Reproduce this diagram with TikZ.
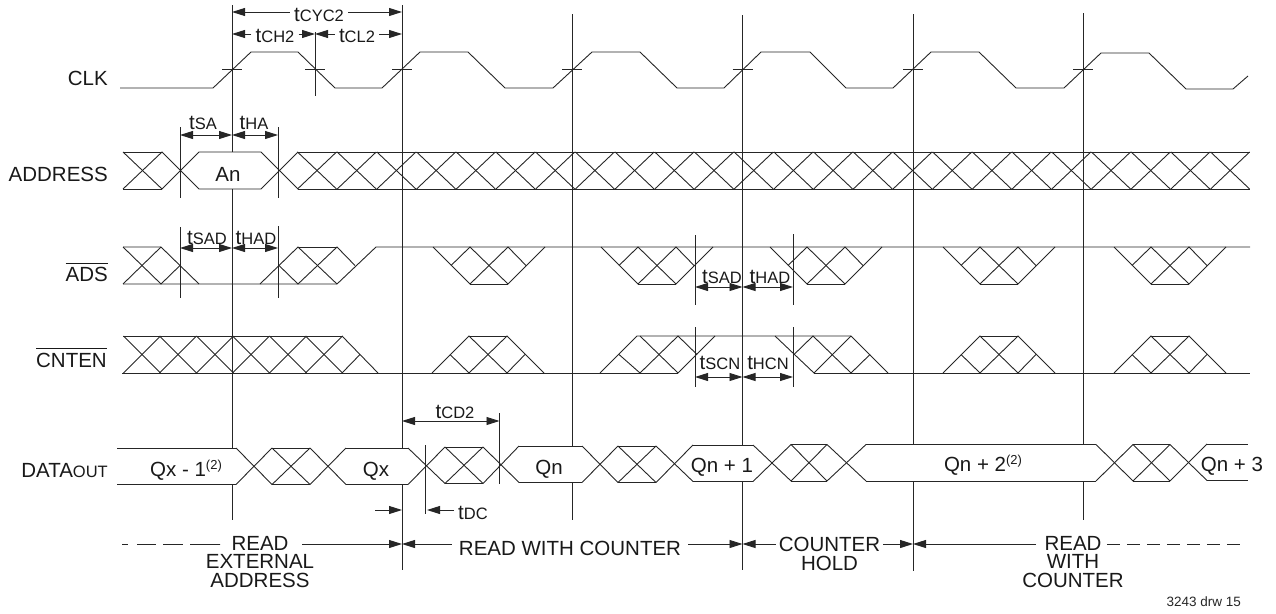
\documentclass[tikz,border=0pt]{standalone}
\usepackage{fontspec}
\setmainfont{Liberation Sans}
\usetikzlibrary{arrows.meta}
\newcommand{\smcap}[1]{{\fontsize{16.5}{16.5}\selectfont #1}}
\newcommand{\tlab}[1]{t\smcap{#1}}
\newcommand{\barred}[1]{\vbox{\hrule height 1pt\kern3.5pt\hbox{#1}}}
\newcommand{\notetwo}{\raisebox{7pt}{\fontsize{13}{13}\selectfont (2)}}
\tikzset{
    wave/.style={line width=0.9pt,black!85},
    guide/.style={line width=0.9pt,black!85},
    dim/.style={line width=0.9pt,black!85,-{Triangle[length=13pt,width=8pt]}},
    dimboth/.style={line width=0.9pt,black!85,{Triangle[length=13pt,width=8pt]}-{Triangle[length=13pt,width=8pt]}},
    lab/.style={inner sep=0pt,text height=14.3pt,text depth=0pt,text=black!90,
        font=\fontsize{20.5}{20.5}\selectfont},
    siglab/.style={lab,anchor=east},
    timelab/.style={lab,inner xsep=4pt},
    phase/.style={inner sep=0pt,align=center,text=black!90,
        font=\fontsize{20.5}{18.5}\selectfont},
}
\begin{document}
\begin{tikzpicture}[x=1pt,y=-1pt]
    \useasboundingbox (0,0) rectangle (1276,613);
    % clock edges and guide lines
    \draw[guide] (232,5) -- (232,152) (232,189) -- (232,448) (232,484) -- (232,520);
    \draw[guide] (402,5) -- (402,448) (402,484) -- (402,570);
    \draw[guide] (572,14) -- (572,446) (572,482) -- (572,520);
    \draw[guide] (742.5,15) -- (742.5,445) (742.5,482) -- (742.5,570);
    \draw[guide] (913,14) -- (913,444) (913,481) -- (913,571);
    \draw[guide] (1083,13) -- (1083,444) (1083,481) -- (1083,520);
    \draw[guide] (315,32) -- (315,96) (305,69) -- (325,69);
    \draw[guide] (180,127) -- (180,198) (278,127) -- (278,198);
    \draw[guide] (180,227) -- (180,298) (278,226) -- (278,298);
    \draw[guide] (695,235) -- (695,305) (793,234) -- (793,305);
    \draw[guide] (695,327) -- (695,387) (793,327) -- (793,387);
    \draw[guide] (499.5,413) -- (499.5,484) (425.5,445) -- (425.5,514);
    \foreach \x in {232,402,572,742.5,913,1083}
        \draw[guide] (\x-10,69) -- (\x+10,69);

    % CLK
    \node[siglab] (clk) at (108,78) {CLK};
    \draw[wave] (120,88) -- (213,88) -- (251,52) -- (298,52) -- (335,88)
        -- (382,88) -- (420,52) -- (468,52) -- (505,88)
        -- (553,88) -- (592,52) -- (640,52) -- (677,88)
        -- (724,88) -- (761,52) -- (810,52) -- (846,88)
        -- (893,88) -- (931,52) -- (979,52) -- (1016,88)
        -- (1064,88) -- (1101,53) -- (1149,53) -- (1186,89)
        -- (1233,89) -- (1248,76);

    % ADDRESS
    \node[siglab] (address) at (108,174.5) {ADDRESS};
    \begin{scope}[shift={(0,152)}]
        \draw[wave] (123,0) -- (162,37) -- (199,0) -- (261,0) -- (298,37);
        \draw[wave] (123,37) -- (162,0) -- (199,37) -- (261,37) -- (298,0);
        \draw[wave] (123,0) -- (162,0) (123,37) -- (162,37);
        \draw[wave] (298,0) -- (1250,0) (298,37) -- (1250,37);
        \foreach \i in {0,...,23} {
            \pgfmathsetmacro{\c}{317+39.7*\i}
            \draw[wave] (\c-19.5,0) -- (\c+19.5,37);
            \draw[wave] (\c-19.5,37) -- (\c+19.5,0);
        }
    \end{scope}
    \node[lab] (an) at (228,174) {An};

    % ADS
    \node[siglab] (ads) at (108,274.7) {\barred{ADS}};
    \begin{scope}[shift={(0,247)}]
        \draw[wave] (123,0) -- (161,0) -- (199,37);
        \draw[wave] (123,0) -- (161,37) -- (180,18.5);
        \draw[wave] (123,37) -- (161,0);
        \draw[wave] (123,37) -- (337,37) -- (376,0) -- (1250,0);
        \draw[wave] (260,37) -- (298,0) -- (337,37);
        \draw[wave] (279,18.5) -- (298,37) -- (337,0) -- (355,18.5);
        \draw[wave] (298,0) -- (337,0);
        \foreach \a in {433,601,770,943,1114} {
            \draw[wave] (\a,0) -- (\a+37,37) -- (\a+75,0) -- (\a+93,18.5);
            \draw[wave] (\a+18,18.5) -- (\a+37,0) -- (\a+75,37) -- (\a+112,0);
            \draw[wave] (\a+37,37) -- (\a+75,37);
        }
    \end{scope}

    % CNTEN
    \node[siglab] (cnten) at (107,360) {\barred{CNTEN}};
    \begin{scope}[shift={(0,336)}]
        \draw[wave] (123,0) -- (342,0) (122,37) -- (678,37) (814,37) -- (1250,37);
        \foreach \c in {142,178,215,251,288,324} {
            \draw[wave] (\c-18.5,0) -- (\c+18.5,37);
            \draw[wave] (\c-18.5,37) -- (\c+18.5,0);
        }
        \draw[wave] (342,0) -- (378,37) (342,37) -- (360,18.5);
        \foreach \a in {432,943,1114} {
            \draw[wave] (\a,37) -- (\a+37,0) -- (\a+75,37) -- (\a+93,18.5);
            \draw[wave] (\a+18,18.5) -- (\a+37,37) -- (\a+75,0) -- (\a+112,37);
            \draw[wave] (\a+37,0) -- (\a+75,0);
        }
        \draw[wave] (600,37) -- (637,0) -- (851,0) -- (888,37);
        \draw[wave] (619,18.5) -- (640,37) -- (678,0) -- (697,18.5);
        \draw[wave] (640,0) -- (678,37) -- (715,0);
        \draw[wave] (775,0) -- (814,37) -- (851,0);
        \draw[wave] (794,18.5) -- (813,0) -- (851,37) -- (870,18.5);
    \end{scope}

    % DATAOUT
    \node[siglab] (dataout) at (108,470) {DATA\smcap{OUT}};
    \foreach \l/\r/\t in {117/236/448,272/310/448,346/408/448,445/483/447,519/582/446,
            618/656/446,693/753/445,791/827/444.5,866/1096/444.5,1133/1170/444.5,1207/1248/444} {
        \draw[wave] (\l,\t) -- (\r,\t) (\l,\t+36.5) -- (\r,\t+36.5);
    }
    \foreach \a/\b/\t/\u in {236/272/448/448,310/346/448/448,408/445/448/447,483/519/447/446,
            582/618/446/446,656/693/446/445,753/791/445/444.5,827/866/444.5/444.5,
            1096/1133/444.5/444.5,1170/1207/444.5/444} {
        \draw[wave] (\a,\t) -- (\b,\u+36.5);
        \draw[wave] (\a,\t+36.5) -- (\b,\u);
    }
    \foreach \l/\r/\t in {272/310/448,445/483/447,618/656/446,791/827/444.5,1133/1170/444.5} {
        \draw[wave] (\l,\t) -- (\r,\t+36.5);
        \draw[wave] (\l,\t+36.5) -- (\r,\t);
    }
    \node[lab] (qx1) at (186,469.5) {Qx - 1\notetwo};
    \node[lab] (qx) at (376,469.5) {Qx};
    \node[lab] (qn) at (549,467.5) {Qn};
    \node[lab] (qn1) at (722,465.5) {Qn + 1};
    \node[lab] (qn2) at (983,464) {Qn + 2\notetwo};
    \node[lab] (qn3) at (1232,464.5) {Qn + 3};

    % cycle timing
    \coordinate (cyca) at (232,12);
    \coordinate (cycb) at (402,12);
    \coordinate (cha) at (232,34);
    \coordinate (chb) at (315,34);
    \coordinate (clb) at (402,34);
    \node[timelab] (tcyc) at (319,14.5) {\tlab{CYC2}};
    \node[timelab] (tch) at (275,35) {\tlab{CH2}};
    \node[timelab] (tcl) at (357,35) {\tlab{CL2}};
    \draw[dim] (tcyc.west |- cyca) -- (cyca);
    \draw[dim] (tcyc.east |- cycb) -- (cycb);
    \draw[dim] (tch.west |- cha) -- (cha);
    \draw[dim] (tch.east |- chb) -- (chb);
    \draw[dim] (tcl.west |- chb) -- (chb);
    \draw[dim] (tcl.east |- clb) -- (clb);

    % setup and hold
    \foreach \n/\lab/\hlab/\y/\a/\m/\b/\ly/\sx/\hx in {
            sa/SA/HA/135/180/232/278/122/203/254,
            sad/SAD/HAD/248/180/232/278/237/207/256,
            sadr/SAD/HAD/287/695/742.5/793/276/722/770,
            scn/SCN/HCN/377/695/742.5/793/362/720/768} {
        \coordinate (\n a) at (\a,\y);
        \coordinate (\n m) at (\m,\y);
        \coordinate (\n b) at (\b,\y);
        \draw[dimboth] (\n a) -- (\n m);
        \draw[dimboth] (\n m) -- (\n b);
        \node[lab] (t\n s) at (\sx,\ly) {\tlab{\lab}};
        \node[lab] (t\n h) at (\hx,\ly) {\tlab{\hlab}};
    }

    % data out timing
    \coordinate (cda) at (402,421);
    \coordinate (cdb) at (499.5,421);
    \draw[dimboth] (cda) -- (cdb);
    \node[lab] (tcd) at (455,411) {\tlab{CD2}};
    \coordinate (dca) at (375,510);
    \coordinate (dcb) at (402,510);
    \coordinate (dcc) at (454,510);
    \coordinate (dcd) at (427,510);
    \draw[dim] (dca) -- (dcb);
    \draw[dim] (dcc) -- (dcd);
    \node[lab,anchor=west] (tdc) at (458,512) {\tlab{DC}};

    % operations
    \coordinate (opa) at (122,544);
    \coordinate (opb) at (220,544);
    \coordinate (opc) at (302,544);
    \coordinate (opd) at (402,544);
    \coordinate (ope) at (742.5,544);
    \coordinate (opf) at (913,544);
    \coordinate (opg) at (1245,544);
    \coordinate (oph) at (1107,544);
    \node[phase,anchor=north] (readext) at (260,536) {READ\\EXTERNAL\\ADDRESS};
    \node[lab,inner xsep=7pt] (readcnt) at (570,548) {READ WITH COUNTER};
    \node[phase,anchor=north] (hold) at (829.5,537) {COUNTER\\HOLD};
    \node[phase,anchor=north] (readend) at (1073,536) {READ\\WITH\\COUNTER};
    \draw[wave,dash pattern=on 6pt off 9pt on 19pt off 7pt on 20pt off 7pt on 30pt off 0pt] (opa) -- (opb);
    \draw[dim] (opc) -- (opd);
    \draw[dim] (readcnt.west |- opd) -- (opd);
    \draw[dim] (readcnt.east |- ope) -- (ope);
    \draw[dim] (hold.west |- ope) ++(-3,0) -- (ope);
    \draw[dim] (hold.east |- opf) ++(3,0) -- (opf);
    \draw[dim] (readend.west |- opf) ++(14,0) -- (opf);
    \draw[wave,dash pattern=on 13pt off 7pt] (oph) -- (opg);
    \node[inner sep=0pt,anchor=east,text=black!85,font=\fontsize{13.5}{13.5}\selectfont] (drw) at (1241,602) {3243 drw 15};
\end{tikzpicture}
\end{document}
